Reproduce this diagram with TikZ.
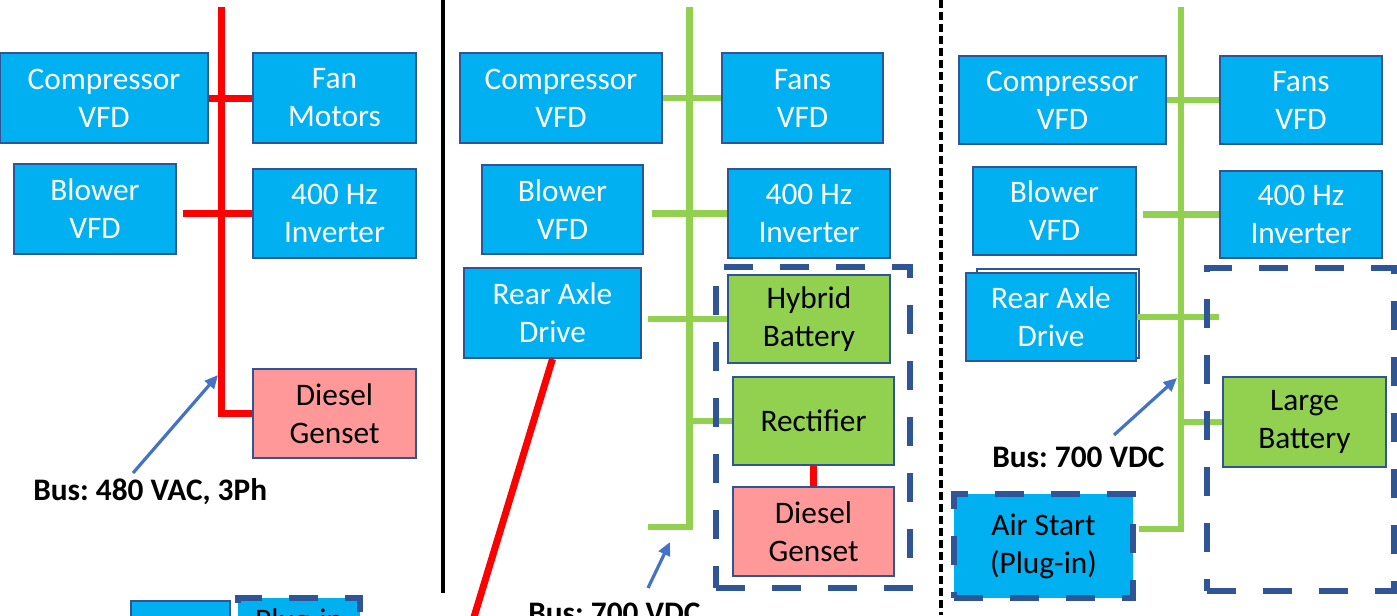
\documentclass[tikz,border=0pt]{standalone}
\usepackage{fontspec}
\setmainfont{Carlito}
\usetikzlibrary{arrows.meta}
\definecolor{boxblue}{HTML}{00B0F0}
\definecolor{edgeblue}{HTML}{2F5597}
\definecolor{busgreen}{HTML}{92D050}
\definecolor{genpink}{HTML}{FF9999}
\definecolor{arrowblue}{HTML}{4472C4}
\definecolor{busred}{HTML}{FF0000}
\frenchspacing
\begin{document}
\begin{tikzpicture}[x=0.75pt,y=-0.75pt,
  every node/.style={font=\fontsize{23.5}{28.5}\selectfont},
  sz/.style 2 args={minimum width=#1*0.75pt, minimum height=#2*0.75pt},
  unit/.style={draw=edgeblue, line width=1.5pt, inner sep=0pt, align=center},
  bluebox/.style={unit, fill=boxblue, text=white},
  greenbox/.style={unit, fill=busgreen, text=black},
  pinkbox/.style={unit, fill=genpink, text=black},
  groupbox/.style={draw=edgeblue, line width=4.5pt, dash pattern=on 22pt off 20pt, inner sep=0pt},
  airbox/.style={groupbox, fill=boxblue, text=black, align=center},
  redline/.style={draw=busred, line width=5.25pt},
  greenline/.style={draw=busgreen, line width=5pt},
  busarrow/.style={draw=arrowblue, line width=2.4pt, -{Triangle[length=10pt,width=9pt]}},
  buslabel/.style={font=\fontsize{23.5}{28.5}\selectfont\bfseries, inner sep=0pt},
  divider/.style={draw=black, line width=3pt},
  dashdivider/.style={draw=black, line width=2.4pt, dash pattern=on 6pt off 3pt},
]
\useasboundingbox (0,0) rectangle (1397,615);
\clip (0,0) rectangle (1397,615);

% ---------- left panel ----------
\node[bluebox, sz={208}{90}] (lcomp) at (104,98) {Compressor\\VFD};
\node[bluebox, sz={163}{90}] (lfan) at (334.5,98) {Fan\\Motors};
\node[bluebox, sz={162}{90}] (lblow) at (95,209) {Blower\\VFD};
\node[bluebox, sz={163}{89}] (linv) at (334.5,213.5) {400 Hz\\Inverter};
\node[pinkbox, sz={163}{89}] (lgen) at (334.5,413.5) {Diesel\\Genset};
\coordinate (ltop) at (221.5,7);
\coordinate (lbot) at (221.5,413.5);
\coordinate (lbj) at (183,213.5);
\draw[redline] (ltop) -- (lbot) -- (lgen.west);
\draw[redline] (lcomp.east) -- (lfan.west);
\draw[redline] (lbj) -- (linv.west);
\coordinate (larrS) at (133,473);
\coordinate (larrE) at (218,375);
\draw[busarrow] (larrS) -- (larrE);
\node[buslabel, anchor=base west] (llabel) at (33,500) {Bus: 480 VAC, 3Ph};
\node[bluebox, sz={99}{60}] (lpart) at (180.5,631) {};
\node[airbox, sz={122}{60}] (lplug) at (299,628) {};
\node[anchor=base, inner sep=0pt, text=black] (lplugtxt) at (299,630) {Plug-in};

\coordinate (div1t) at (443,0);
\coordinate (div1b) at (443,593);
\draw[divider] (div1t) -- (div1b);

% ---------- middle panel ----------
\node[bluebox, sz={202}{90}] (mcomp) at (561,98) {Compressor\\VFD};
\node[bluebox, sz={161}{90}] (mfans) at (802.5,98) {Fans\\VFD};
\node[bluebox, sz={161}{89}] (mblow) at (562.5,209.5) {Blower\\VFD};
\node[bluebox, sz={162}{89}] (minv) at (809,213.5) {400 Hz\\Inverter};
\node[bluebox, sz={177}{90}] (mrear) at (552.5,313) {Rear Axle\\Drive};
\node[greenbox, sz={162}{88}] (mhyb) at (809,319) {Hybrid\\Battery};
\node[greenbox, sz={161}{88}] (mrect) at (813.5,421) {Rectifier};
\node[pinkbox, sz={161}{89}] (mgen) at (813.5,531.5) {Diesel\\Genset};
\coordinate (mtop) at (689.5,7);
\coordinate (mbot) at (689.5,527);
\coordinate (mend) at (648,527);
\coordinate (mbj) at (652,213.5);
\coordinate (mrj) at (648,319);
\draw[greenline] (mtop) -- (mbot) -- (mend);
\draw[greenline] (mcomp.east) -- (mfans.west);
\draw[greenline] (mbj) -- (minv.west);
\draw[greenline] (mrj) -- (mhyb.west);
\draw[greenline] (mrect.west -| mtop) -- (mrect.west);
\draw[redline] (mrect.south) -- (mgen.north);
\coordinate (mredend) at (467,640);
\draw[redline] (mrear.south) -- (mredend);
\node[groupbox, sz={194}{321}] (mgroup) at (813,427.5) {};
\coordinate (marrS) at (648,588);
\coordinate (marrE) at (670,542);
\draw[busarrow] (marrS) -- (marrE);
\node[buslabel, anchor=base west] (mlabel) at (528,623) {Bus: 700 VDC};

\coordinate (div2t) at (941,0);
\coordinate (div2b) at (941,615);
\draw[dashdivider] (div2t) -- (div2b);

% ---------- right panel ----------
\node[bluebox, sz={207}{88}] (rcomp) at (1062.5,100) {Compressor\\VFD};
\node[bluebox, sz={162}{88}] (rfans) at (1301,100) {Fans\\VFD};
\node[bluebox, sz={163}{88}] (rblow) at (1054.5,211) {Blower\\VFD};
\node[bluebox, sz={162}{87}] (rinv) at (1301,214.5) {400 Hz\\Inverter};
\node[unit, sz={162}{89}] (rrearback) at (1058,313.5) {};
\node[bluebox, sz={170}{88}] (rrear) at (1051,317) {Rear Axle\\Drive};
\node[greenbox, sz={163}{90}] (rbat) at (1304.5,422) {Large\\Battery};
\node[airbox, sz={179}{104}] (rair) at (1043.5,546) {Air Start\\(Plug-in)};
\coordinate (rtop) at (1181,7);
\coordinate (rbot) at (1181,529);
\coordinate (rend) at (1139,529);
\coordinate (rbj) at (1143,214.5);
\coordinate (rrj) at (1219,317);
\draw[greenline] (rtop) -- (rbot) -- (rend);
\draw[greenline] (rcomp.east) -- (rfans.west);
\draw[greenline] (rbj) -- (rinv.west);
\draw[greenline] (rrear.east) -- (rrj);
\draw[greenline] (rbat.west -| rtop) -- (rbat.west);
\node[groupbox, sz={187}{323}] (rgroup) at (1300.5,429.5) {};
\coordinate (rarrS) at (1114,435);
\coordinate (rarrE) at (1177,378);
\draw[busarrow] (rarrS) -- (rarrE);
\node[buslabel, anchor=base west] (rlabel) at (992,467) {Bus: 700 VDC};
\end{tikzpicture}
\end{document}
